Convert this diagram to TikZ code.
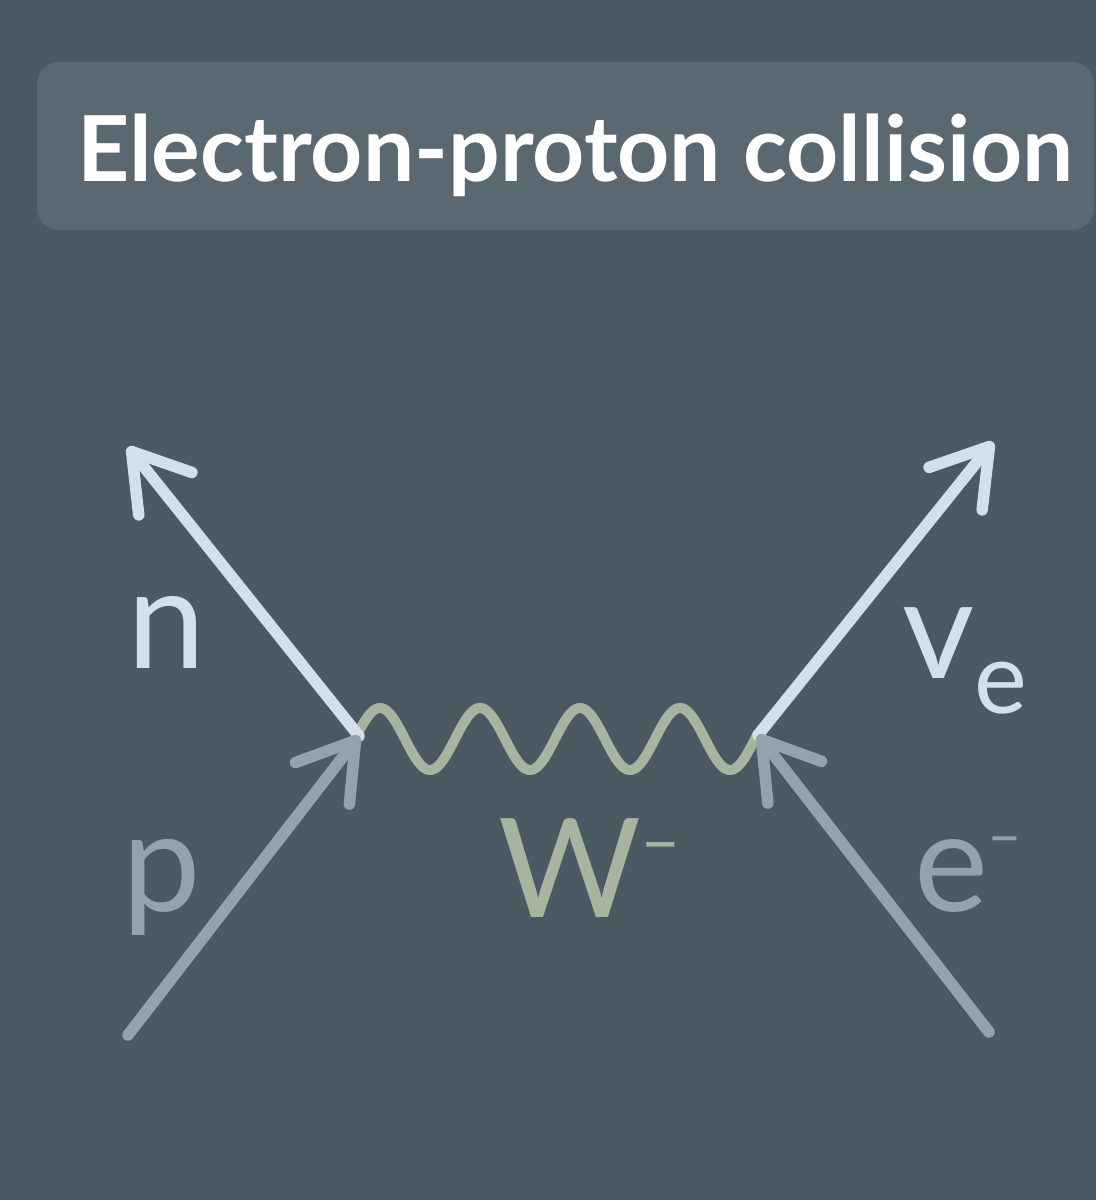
\documentclass[tikz,border=0pt]{standalone}
\usepackage{fontspec}
\setmainfont{Lato}
\usetikzlibrary{arrows.meta}
\definecolor{bg}{HTML}{4B5963}
\definecolor{titlebg}{HTML}{5A6872}
\definecolor{bright}{HTML}{D3DFE9}
\definecolor{dim}{HTML}{95A1AB}
\definecolor{wavec}{HTML}{A7B5A0}
\tikzset{
  fermion/.style={line width=11.5pt, line cap=round,
    -{Straight Barb[length=54pt,width=68pt,round]}},
  lbl/.style={anchor=base west, inner sep=0pt, outer sep=0pt},
  titlebox/.style={fill=titlebg, rounded corners=22pt},
}
\begin{document}
\begin{tikzpicture}[x=1pt,y=-1pt]
\fill[bg] (0,0) rectangle (1096,1200);
\useasboundingbox (0,0) rectangle (1096,1200);
% title
\fill[titlebox] (37,62) rectangle (1094,230);
\node[lbl, text=white, font=\fontsize{91}{98}\selectfont\bfseries] (title) at (77,181) {Electron-proton collision};
% vertices and ends
\coordinate (L) at (359,736);
\coordinate (R) at (758,735);
\coordinate (nEnd) at (128,447);
\coordinate (pStart) at (128,1035);
\coordinate (vEnd) at (993,442);
\coordinate (eStart) at (989,1032);
% W boson
\draw[wavec, line width=10pt, line cap=round, line join=round]
  plot[domain=359:758, samples=240] (\x, {739-31*cos(3.6*(\x-380))});
% fermion lines
\draw[fermion, bright] (L) -- (nEnd);
\draw[fermion, bright] (R) -- (vEnd);
\draw[fermion, dim] (pStart) -- (L);
\draw[fermion, dim] (eStart) -- (R);
% labels
\node[lbl, text=bright, font=\fontsize{140}{150}\selectfont] (n) at (127,668) {n};
\node[lbl, text=dim, font=\fontsize{140}{150}\selectfont] (p) at (122,911) {p};
\node[lbl, text=wavec, font=\fontsize{138}{146}\selectfont] (W) at (498,917) {W\raisebox{52pt}{\fontsize{70}{70}\selectfont –}};
\node[lbl, text=bright, font=\fontsize{140}{150}\selectfont] (nu) at (902,678) {v\raisebox{-35pt}{\fontsize{100}{100}\selectfont e}};
\node[lbl, text=dim, font=\fontsize{140}{150}\selectfont] (e) at (914,911) {e\raisebox{55pt}{\fontsize{60}{60}\selectfont –}};
\end{tikzpicture}
\end{document}
